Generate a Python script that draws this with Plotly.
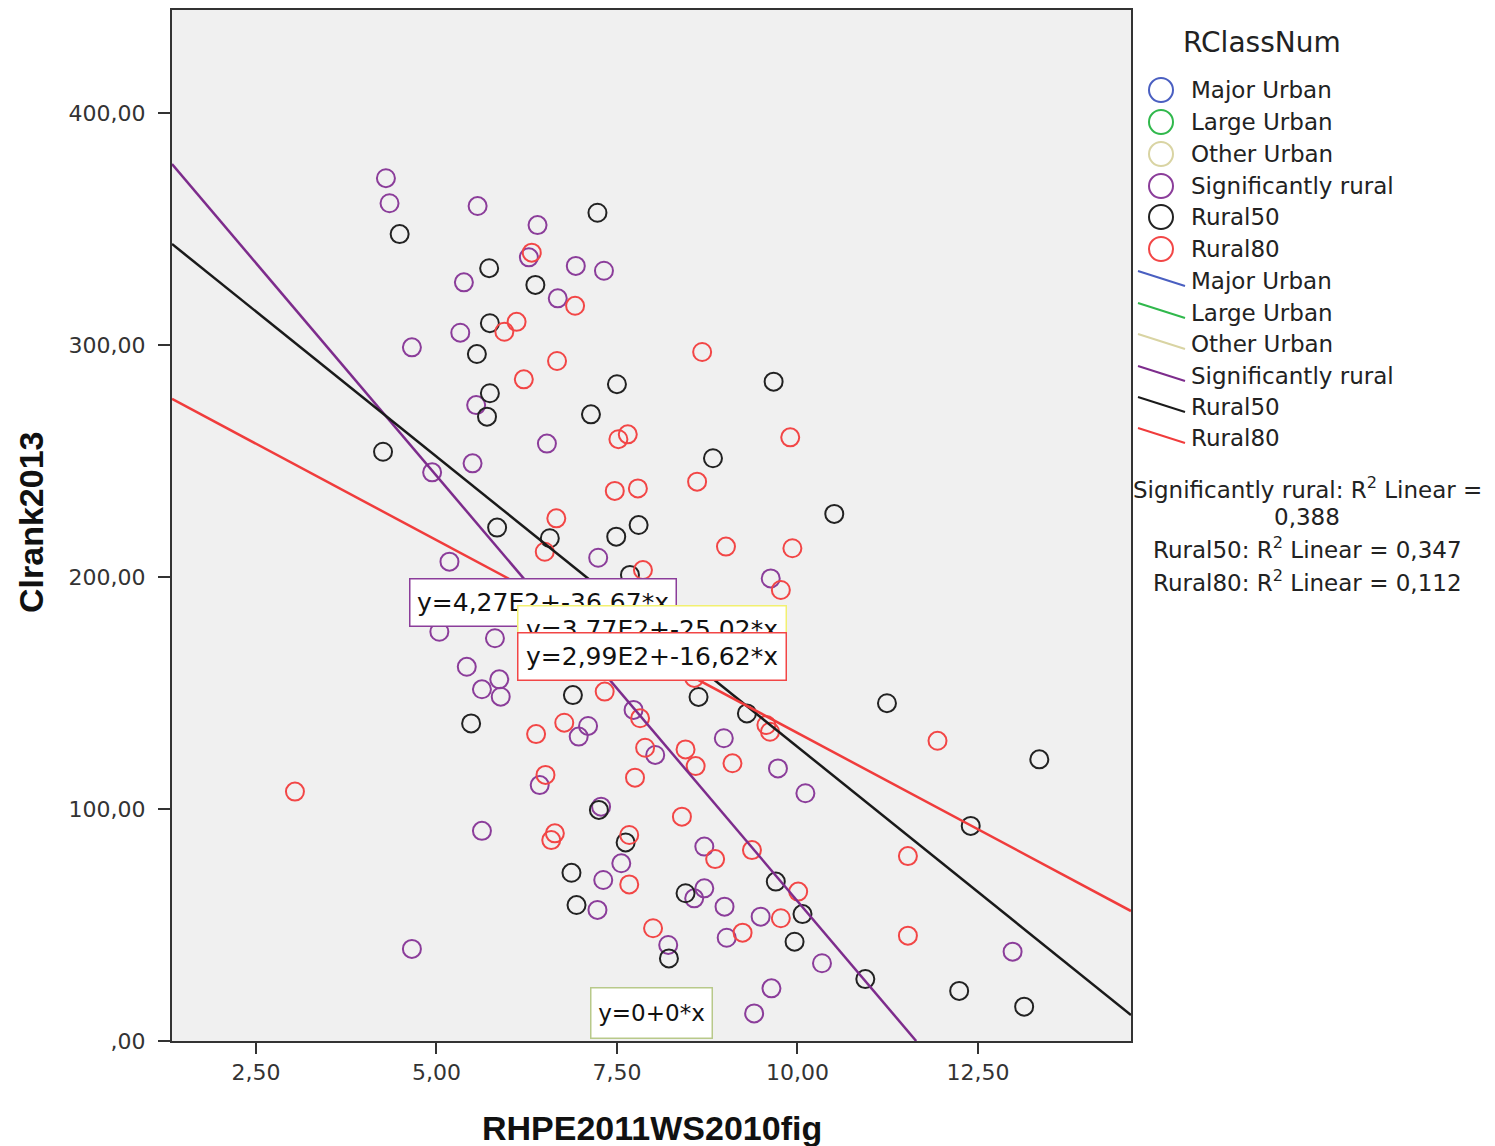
import plotly.graph_objects as go

# ---------------- data ----------------
sig_x = [4.30, 4.35, 5.57, 6.40, 6.28, 5.38, 6.68, 6.93, 7.32, 5.33, 4.66, 5.55, 6.53, 5.50, 4.94,
         5.18, 7.24, 9.63, 5.04, 5.81, 5.42, 5.87, 5.63, 5.89, 7.73, 7.10, 6.97, 8.03, 8.98, 9.73,
         10.11, 6.43, 5.63, 7.28, 8.71, 7.56, 7.31, 8.57, 8.71, 7.23, 8.99, 9.49, 9.02, 8.21, 10.34,
         9.64, 9.40, 4.66, 12.98]
sig_y = [371.9, 361.1, 359.9, 351.7, 337.8, 327.0, 320.1, 334.1, 332.0, 305.3, 299.0, 274.1, 257.5, 249.0, 245.1,
         206.6, 208.3, 199.4, 176.4, 173.6, 161.3, 155.9, 151.6, 148.4, 142.7, 135.8, 131.2, 123.3, 130.5, 117.5,
         106.8, 110.3, 90.6, 101.0, 83.8, 76.6, 69.4, 61.5, 65.8, 56.5, 57.9, 53.6, 44.5, 41.4, 33.5,
         22.7, 11.9, 39.7, 38.5]

r50_x = [4.49, 7.23, 5.73, 6.37, 5.74, 5.56, 5.74, 5.70, 7.50, 7.14, 9.67, 4.26, 8.83, 10.51, 5.84,
         7.80, 7.49, 6.57, 7.68, 6.89, 8.63, 9.30, 11.24, 5.48, 13.35, 12.40, 7.25, 7.62, 6.87, 9.70,
         8.45, 6.94, 10.07, 9.96, 8.22, 10.94, 12.24, 13.14]
r50_y = [347.8, 357.0, 333.1, 325.9, 309.4, 296.1, 279.2, 269.1, 283.1, 270.1, 284.2, 254.0, 251.2, 227.2, 221.3,
         222.4, 217.4, 216.7, 200.9, 149.1, 148.3, 141.2, 145.6, 136.9, 121.4, 92.7, 99.6, 85.6, 72.5, 68.7,
         63.7, 58.6, 54.7, 42.8, 35.6, 26.7, 21.6, 14.8]

r80_x = [6.32, 6.92, 6.11, 5.94, 6.67, 6.21, 8.68, 7.52, 7.65, 9.90, 8.61, 7.47, 7.79, 6.66, 6.50,
         9.01, 9.93, 7.86, 9.77, 7.33, 8.57, 7.82, 6.77, 6.38, 9.57, 9.62, 7.89, 8.45, 8.59, 9.10,
         7.75, 6.51, 3.04, 8.40, 6.64, 6.59, 7.67, 8.86, 9.37, 7.67, 10.01, 9.77, 8.00, 9.24, 11.94,
         11.53, 11.53]
r80_y = [339.8, 316.9, 310.0, 305.7, 293.1, 285.2, 297.0, 259.4, 261.5, 260.2, 241.1, 237.1, 238.2, 225.3, 210.9,
         213.1, 212.4, 203.0, 194.4, 150.6, 156.5, 139.1, 137.2, 132.3, 136.2, 133.3, 126.4, 125.7, 118.5, 119.7,
         113.5, 114.7, 107.5, 96.7, 89.5, 86.6, 88.8, 78.4, 82.3, 67.5, 64.4, 52.9, 48.6, 46.7, 129.4,
         79.7, 45.4]

fit_names = ["Significantly rural", "Rural50", "Rural80"]
fit_intercept = [427.0, 377.0, 299.0]
fit_slope = [-36.67, -25.02, -16.62]
fit_labels = ["y=4,27E2+-36,67*x", "y=3,77E2+-25,02*x", "y=2,99E2+-16,62*x"]
empty_fit_label = "y=0+0*x"

legend_title = "RClassNum"
legend_classes = ["Major Urban", "Large Urban", "Other Urban", "Significantly rural", "Rural50", "Rural80"]
r2_lines = ["Significantly rural: R<sup>2</sup> Linear =", "0,388",
            "Rural50: R<sup>2</sup> Linear = 0,347", "Rural80: R<sup>2</sup> Linear = 0,112"]

x_tickvals = [2.5, 5.0, 7.5, 10.0, 12.5]
x_ticktext = ["2,50", "5,00", "7,50", "10,00", "12,50"]
y_tickvals = [0, 100, 200, 300, 400]
y_ticktext = [",00", "100,00", "200,00", "300,00", "400,00"]
x_title = "RHPE2011WS2010fig"
y_title = "Clrank2013"

X_RANGE = [1.337, 14.62]
Y_RANGE = [0, 444.4]

# ---------------- styling ----------------
class_colors = ["#4A5FC1", "#30B84C", "#D9D4A3", "#8B3D9A", "#222222", "#F24646"]
line_colors = ["#4A5FC1", "#30B84C", "#D9D4A3", "#7D2C8C", "#1A1A1A", "#F03C3C"]
box_colors = ["#8B3D9A", "#F2F070", "#F24646"]

W, H = 1495, 1146
ML, MR, MT, MB = 172, 364, 10, 105
PW, PH = W - ML - MR, H - MT - MB


def px(x):
    return (x - ML) / PW


def py(y):
    return (H - MB - y) / PH


TXT = "DejaVu Sans"
fig = go.Figure()

series = [(sig_x, sig_y, class_colors[3], "Significantly rural"),
          (r50_x, r50_y, class_colors[4], "Rural50"),
          (r80_x, r80_y, class_colors[5], "Rural80")]
for xs, ys, col, nm in series:
    fig.add_trace(go.Scatter(x=xs, y=ys, mode="markers", name=nm,
                             marker=dict(symbol="circle-open", size=18, color=col,
                                         line=dict(width=2, color=col)),
                             showlegend=False))

for i, nm in enumerate(fit_names):
    b0, b1 = fit_intercept[i], fit_slope[i]
    x0 = X_RANGE[0]
    x1 = min(X_RANGE[1], -b0 / b1)
    fig.add_trace(go.Scatter(x=[x0, x1], y=[b0 + b1 * x0, b0 + b1 * x1], mode="lines",
                             line=dict(color=line_colors[3 + i], width=2.5),
                             name=nm, showlegend=False, hoverinfo="skip"))

annotations = []
shapes = []

# equation boxes (left px, top px, width px, height px)
box_geo = [(409, 578, 267, 48), (517, 605, 269, 48), (517, 632, 269, 48)]
for i, lab in enumerate(fit_labels):
    lx, ty, bw, bh = box_geo[i]
    annotations.append(dict(x=px(lx), y=py(ty), xref="paper", yref="paper", xanchor="left", yanchor="top",
                            text=lab, showarrow=False, bgcolor="white", bordercolor=box_colors[i],
                            borderwidth=1.5, borderpad=2, width=bw - 6, height=bh - 6, align="center",
                            font=dict(family=TXT, size=25, color="#111")))
annotations.append(dict(x=px(590), y=py(987), xref="paper", yref="paper", xanchor="left", yanchor="top",
                        text=empty_fit_label, showarrow=False, bgcolor="white", bordercolor="#B8C98A",
                        borderwidth=1.5, borderpad=2, width=116, height=45, align="center",
                        font=dict(family=TXT, size=23, color="#111")))

# legend (drawn manually to match the SPSS layout)
annotations.append(dict(x=px(1181), y=py(42), xref="paper", yref="paper", xanchor="left", yanchor="middle",
                        text=legend_title, showarrow=False, font=dict(family=TXT, size=28, color="#222")))
marker_rows = [90, 122, 154, 186, 217, 249]
line_rows = [281, 313, 344, 376, 407, 438]
for i, nm in enumerate(legend_classes):
    cy = marker_rows[i]
    shapes.append(dict(type="circle", xref="paper", yref="paper", xsizemode="pixel", ysizemode="pixel",
                       xanchor=px(1161), yanchor=py(cy), x0=-12, x1=12, y0=-12, y1=12,
                       line=dict(color=class_colors[i], width=2)))
    annotations.append(dict(x=px(1189), y=py(cy), xref="paper", yref="paper", xanchor="left", yanchor="middle",
                            text=nm, showarrow=False, font=dict(family=TXT, size=23, color="#222")))
    ly = line_rows[i]
    shapes.append(dict(type="line", xref="paper", yref="paper", x0=px(1138), y0=py(ly - 10),
                       x1=px(1185), y1=py(ly + 5), line=dict(color=line_colors[i], width=2)))
    annotations.append(dict(x=px(1189), y=py(ly), xref="paper", yref="paper", xanchor="left", yanchor="middle",
                            text=nm, showarrow=False, font=dict(family=TXT, size=23, color="#222")))

r2_rows = [488, 517, 548, 581]
for i, t in enumerate(r2_lines):
    annotations.append(dict(x=px(1307), y=py(r2_rows[i]), xref="paper", yref="paper", xanchor="center",
                            yanchor="middle", text=t, showarrow=False,
                            font=dict(family=TXT, size=23, color="#222")))

# axis titles
annotations.append(dict(x=px(652), y=py(1128), xref="paper", yref="paper", xanchor="center", yanchor="middle",
                        text="<b>" + x_title + "</b>", showarrow=False,
                        font=dict(family="Liberation Sans, Arial", size=34, color="#111")))
annotations.append(dict(x=px(31), y=py(523), xref="paper", yref="paper", xanchor="center", yanchor="middle",
                        text="<b>" + y_title + "</b>", showarrow=False, textangle=-90,
                        font=dict(family="Liberation Sans, Arial", size=34, color="#111")))

axis_common = dict(showgrid=False, zeroline=False, showline=True, mirror=True, linecolor="#333",
                   linewidth=2, ticks="outside", tickwidth=1.5, tickcolor="#333",
                   tickfont=dict(family=TXT, size=22, color="#333"))
fig.update_layout(
    width=W, height=H,
    margin=dict(l=ML, r=MR, t=MT, b=MB, autoexpand=False),
    paper_bgcolor="white", plot_bgcolor="#F0F0F0",
    xaxis=dict(range=X_RANGE, tickvals=x_tickvals, ticktext=x_ticktext, ticklen=11,
               ticklabelstandoff=0, **axis_common),
    yaxis=dict(range=Y_RANGE, tickvals=y_tickvals, ticktext=y_ticktext, ticklen=12,
               ticklabelstandoff=8, **axis_common),
    annotations=annotations, shapes=shapes, showlegend=False,
)

fig.write_html("out.html")
